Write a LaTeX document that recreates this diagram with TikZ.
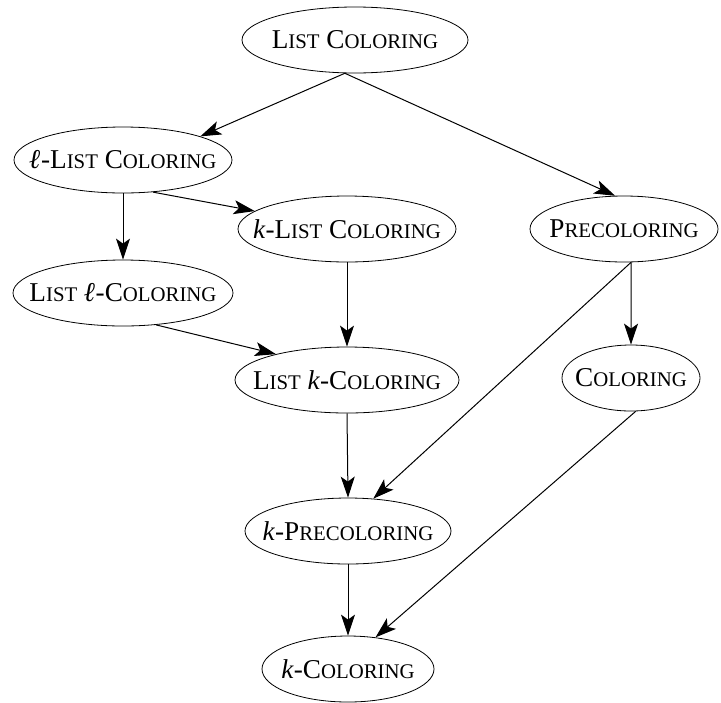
\documentclass[tikz,border=0pt]{standalone}
\usepackage{fontspec}
\setmainfont{Liberation Serif}
\usepackage{tikz}
\usetikzlibrary{arrows.meta,shapes.geometric}

% fake small caps: capital, then smaller capitals
\newcommand{\fsc}[2]{#1{\fontsize{10.4pt}{11pt}\selectfont #2}}
\newcommand{\sell}{{\bfseries\itshape ℓ}}
% text that does not widen the ellipse
\newcommand{\pname}[1]{\makebox[0pt]{#1}}

\begin{document}
\begin{tikzpicture}[x=0.5pt, y=-0.5pt,
    prob/.style={draw, ellipse, minimum height=33pt, inner sep=0pt,
      font=\fontsize{13.6pt}{15pt}\selectfont},
    red/.style={-{Stealth[length=10.5pt, width=7pt, inset=2.5pt]}, line width=0.5pt}]
    \useasboundingbox (0,0) rectangle (721,702);

    \node[prob, minimum width=113pt] (lc) at (355,40) {\pname{\fsc{L}{IST} \fsc{C}{OLORING}}};
    \node[prob, minimum width=109pt] (llc) at (123,160) {\pname{\sell-\fsc{L}{IST} \fsc{C}{OLORING}}};
    \node[prob, minimum width=110pt] (lLc) at (123,293) {\pname{\fsc{L}{IST} \sell-\fsc{C}{OLORING}}};
    \node[prob, minimum width=109pt] (kLc) at (347,229) {\pname{\textit{k}-\fsc{L}{IST} \fsc{C}{OLORING}}};
    \node[prob, minimum width=94pt] (pre) at (624,229) {\pname{\fsc{P}{RECOLORING}}};
    \node[prob, minimum width=112pt] (Lkc) at (347,380) {\pname{\fsc{L}{IST} \textit{k}-\fsc{C}{OLORING}}};
    \node[prob, minimum width=69pt] (col) at (631,378) {\pname{\fsc{C}{OLORING}}};
    \node[prob, minimum width=103pt] (kpre) at (348,531) {\pname{\textit{k}-\fsc{P}{RECOLORING}}};
    \node[prob, minimum width=86pt] (kcol) at (348,669) {\pname{\textit{k}-\fsc{C}{OLORING}}};

    \draw[red] (lc.253) -- (llc.17);
    \draw[red] (lc.253) -- (pre.105);
    \draw[red] (llc.south) -- (lLc.north);
    \draw[red] (llc.313) -- (kLc.169);
    \draw[red] (lLc.316) -- (Lkc.160);
    \draw[red] (kLc.south) -- (Lkc.north);
    \draw[red] (pre.282) -- (col.north);
    \draw[red] (pre.282) -- (kpre.52);
    \draw[red] (Lkc.south) -- (kpre.north);
    \draw[red] (kpre.south) -- (kcol.north);
    \draw[red] (col.278) -- (kcol.49);
\end{tikzpicture}
\end{document}
